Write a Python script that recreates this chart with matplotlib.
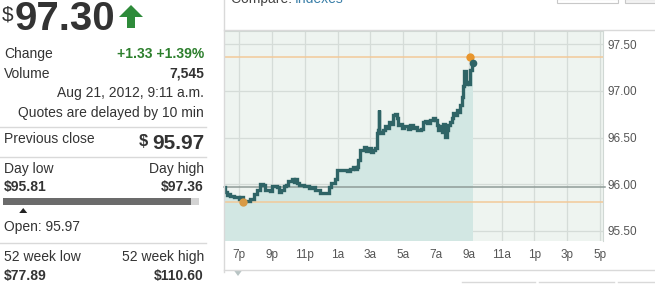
import matplotlib
matplotlib.use("Agg")
import matplotlib.pyplot as plt
from matplotlib.patches import Polygon, Rectangle
from matplotlib.lines import Line2D

plt.rcParams['font.family'] = ['Liberation Sans', 'DejaVu Sans']

# ---------------- data ----------------
# hours after 6 p.m. (Aug 20) and price
times_h = [0.11, 0.15, 0.25, 0.35, 0.45, 0.66, 0.86, 0.96, 1.06, 1.21, 1.47, 1.67, 1.88, 2.08,
           2.28, 2.43, 2.59, 2.75, 2.89, 2.99, 3.20, 3.30, 3.40, 3.56, 3.71, 3.85, 3.97, 4.11,
           4.21, 4.32, 4.41, 4.52, 4.66, 4.93, 5.13, 5.27, 5.43, 5.63, 5.84, 5.94, 6.15, 6.41,
           6.49, 6.61, 6.76, 6.85, 6.96, 7.16, 7.34, 7.55, 7.75, 7.95, 8.05, 8.16, 8.26, 8.36,
           8.46, 8.60, 8.73, 8.87, 9.01, 9.17, 9.27, 9.38, 9.44, 9.50, 9.54, 9.62, 9.74, 9.88,
           10.02, 10.15, 10.23, 10.35, 10.49, 10.60, 10.70, 10.80, 10.90, 11.04, 11.16, 11.30,
           11.41, 11.57, 11.71, 11.85, 12.06, 12.22, 12.32, 12.46, 12.63, 12.79, 12.93, 13.04,
           13.13, 13.24, 13.34, 13.44, 13.54, 13.64, 13.74, 13.85, 13.95, 14.05, 14.15, 14.26,
           14.35, 14.46, 14.56, 14.66, 14.72, 14.81, 14.90, 14.99, 15.07, 15.18, 15.27]
prices = [95.97, 95.92, 95.89, 95.90, 95.87, 95.86, 95.86, 95.84, 95.86, 95.82, 95.82, 95.84,
          95.90, 95.94, 96.00, 95.99, 95.94, 95.94, 95.93, 95.98, 95.98, 95.97, 95.92, 95.94,
          95.98, 95.99, 96.03, 96.03, 96.06, 96.02, 96.06, 96.01, 95.99, 95.98, 95.98, 95.96,
          95.97, 95.94, 95.94, 95.91, 95.91, 95.91, 95.97, 96.01, 96.01, 96.06, 96.15, 96.15,
          96.15, 96.14, 96.16, 96.18, 96.16, 96.19, 96.26, 96.37, 96.37, 96.40, 96.36, 96.39,
          96.35, 96.37, 96.39, 96.55, 96.58, 96.80, 96.56, 96.55, 96.58, 96.62, 96.60, 96.67,
          96.65, 96.74, 96.75, 96.71, 96.64, 96.65, 96.60, 96.62, 96.62, 96.59, 96.64, 96.60,
          96.61, 96.58, 96.59, 96.67, 96.68, 96.66, 96.69, 96.71, 96.69, 96.64, 96.58, 96.62,
          96.56, 96.65, 96.51, 96.58, 96.64, 96.67, 96.71, 96.76, 96.74, 96.80, 96.78, 96.85,
          96.94, 97.05, 97.21, 97.08, 97.10, 97.08, 97.22, 97.31, 97.30]

x_tick_pos = [1, 3, 5, 7, 9, 11, 13, 15, 17, 19, 21, 23]
x_tick_labels = ['7p', '9p', '11p', '1a', '3a', '5a', '7a', '9a', '11a', '1p', '3p', '5p']
y_ticks = [95.5, 96.0, 96.5, 97.0, 97.5]
y_tick_labels = ['95.50', '96.00', '96.50', '97.00', '97.50']

last_price = 97.30
prev_close = 95.97
day_low, day_high = 95.81, 97.36
day_low_t, day_high_t = 1.21, 15.07
open_price = 95.97
change_txt = "+1.33 +1.39%"
volume_txt = "7,545"
date_txt = "Aug 21, 2012, 9:11 a.m."
wk52_low, wk52_high = 77.89, 110.60

# ---------------- figure ----------------
W, H = 655, 286
fig = plt.figure(figsize=(W / 100, H / 100), dpi=100)
fig.patch.set_facecolor('white')


def fx(x):
    return x / W


def fy(y):
    return 1 - y / H


def ftext(x, y, s, **kw):
    kw.setdefault('va', 'baseline')
    kw.setdefault('color', '#333333')
    kw.setdefault('fontsize', 10)
    fig.text(fx(x), fy(y), s, **kw)


def hline(y, x0, x1, color='#d9d9d9', lw=1):
    fig.add_artist(Line2D([fx(x0), fx(x1)], [fy(y), fy(y)], color=color, lw=lw,
                          transform=fig.transFigure))


def vline(x, y0, y1, color='#d9d9d9', lw=1):
    fig.add_artist(Line2D([fx(x), fx(x)], [fy(y0), fy(y1)], color=color, lw=lw,
                          transform=fig.transFigure))


# ---------------- left panel ----------------
ftext(2, 20, '$', fontsize=15, color='#333333')
ftext(15, 30, f'{last_price:.2f}', fontsize=29, fontweight='bold', color='#333333')
# green up arrow
arrow = [(131, 5), (143, 17), (135, 17), (135, 28), (127, 28), (127, 17), (119, 17)]
fig.add_artist(Polygon([(fx(a), fy(b)) for a, b in arrow], closed=True,
                       facecolor='#2e8b3a', edgecolor='none', transform=fig.transFigure))

green = '#2d7f2d'
ftext(4, 58, 'Change')
ftext(204, 58, change_txt, fontweight='bold', color=green, ha='right')
ftext(4, 78, 'Volume')
ftext(204, 78, volume_txt, fontweight='bold', ha='right')
ftext(204, 97, date_txt, ha='right')
ftext(204, 117, 'Quotes are delayed by 10 min', ha='right')
hline(127, 0, 206)

ftext(4, 143, 'Previous close')
ftext(148, 146, '$', fontsize=12, fontweight='bold', ha='right')
ftext(204, 149, f'{prev_close:.2f}', fontsize=15, fontweight='bold', ha='right')
hline(157, 0, 206)

ftext(4, 172.5, 'Day low')
ftext(204, 172.5, 'Day high', ha='right')
ftext(4, 191, f'${day_low:.2f}', fontweight='bold')
ftext(204, 191, f'${day_high:.2f}', fontweight='bold', ha='right')
# range bar
bar_x0, bar_x1 = 3, 199
frac_hi = (last_price - day_low) / (day_high - day_low)
fig.add_artist(Rectangle((fx(bar_x0), fy(205)), fx(bar_x1 - bar_x0), 7 / H,
                         facecolor='#d3d3d3', edgecolor='none', transform=fig.transFigure))
fig.add_artist(Rectangle((fx(bar_x0), fy(205)), fx((bar_x1 - bar_x0) * frac_hi), 7 / H,
                         facecolor='#6b6b6b', edgecolor='none', transform=fig.transFigure))
open_x = bar_x0 + (bar_x1 - bar_x0) * (open_price - day_low) / (day_high - day_low)
tri = [(open_x, 208), (open_x - 4, 213), (open_x + 4, 213)]
fig.add_artist(Polygon([(fx(a), fy(b)) for a, b in tri], closed=True,
                       facecolor='#222222', edgecolor='none', transform=fig.transFigure))
ftext(4, 231.5, f'Open: {open_price:.2f}')
hline(243, 0, 206)

ftext(4, 261, '52 week low')
ftext(204, 261, '52 week high', ha='right')
ftext(4, 280, f'${wk52_low:.2f}', fontweight='bold')
ftext(204, 280, f'${wk52_high:.2f}', fontweight='bold', ha='right')

# ---------------- chart panel frame ----------------
ftext(231, 3, 'Compare: ', fontsize=10, color='#444444')
ftext(295, 3, 'Indexes', fontsize=10, color='#3a7fa8')
fig.add_artist(Rectangle((fx(557), fy(3)), fx(61), 4 / H, facecolor='white',
                         edgecolor='#c8c8c8', lw=0.8, transform=fig.transFigure))
fig.add_artist(Rectangle((fx(625), fy(3)), fx(32), 4 / H, facecolor='#f2f2f2',
                         edgecolor='#c8c8c8', lw=0.8, transform=fig.transFigure))
vline(223.5, 0, 272)
hline(30, 224, 655)
hline(270, 224, 655)
hline(282, 462, 535)
hline(282, 539, 614)
hline(282, 618, 655)
tri2 = [(234, 270.5), (242, 270.5), (238, 276)]
fig.add_artist(Polygon([(fx(a), fy(b)) for a, b in tri2], closed=True,
                       facecolor='#b8c4c4', edgecolor='none', transform=fig.transFigure))

# ---------------- chart ----------------
ax = fig.add_axes([fx(224), fy(241), fx(603 - 224), (241 - 31) / H])
ax.set_facecolor('#eef4f0')
ax.set_xlim(0.067, 23.18)
ax.set_ylim(95.392, 97.643)

for t in x_tick_pos:
    ax.axvline(t, color='#d5dcd8', lw=0.9, zorder=1)
for v in y_ticks:
    ax.axhline(v, color='#d5dcd8', lw=0.9, zorder=1)

ax.fill_between(times_h, prices, 95.392, step='post', color='#d2e7e3', zorder=2, lw=0)
ax.plot(times_h, prices, drawstyle='steps-post', color='#2f6466', lw=2.4, zorder=5,
        solid_joinstyle='miter')

ax.axhline(day_high, color='#f2c999', lw=1.1, zorder=3)
ax.axhline(day_low, color='#f2c999', lw=1.1, zorder=3)
ax.plot([0.067, 23.18 + 0.15], [prev_close, prev_close], color='#8f9c98', lw=1.1,
        zorder=3, clip_on=False)

ax.plot([day_high_t], [day_high], 'o', color='#e8962e', ms=6, zorder=6, mec='none')
ax.plot([day_low_t], [day_low], 'o', color='#d89a45', ms=6, zorder=6, mec='none')
ax.plot([times_h[-1]], [prices[-1]], 'o', color='#2f6466', ms=5.5, zorder=7, mec='none')

ax.set_xticks(x_tick_pos)
ax.set_xticklabels(x_tick_labels)
ax.set_yticks(y_ticks)
ax.set_yticklabels(y_tick_labels)
ax.yaxis.tick_right()
ax.tick_params(axis='x', length=0, pad=6, labelsize=8.5, labelcolor='#555555')
ax.tick_params(axis='y', length=0, pad=3, labelsize=8.5, labelcolor='#555555')
for sp in ['left', 'bottom']:
    ax.spines[sp].set_visible(False)
ax.spines['top'].set_color('#d0d8d4')
ax.spines['right'].set_color('#d0d8d4')

fig.savefig('out.png', dpi=100)
